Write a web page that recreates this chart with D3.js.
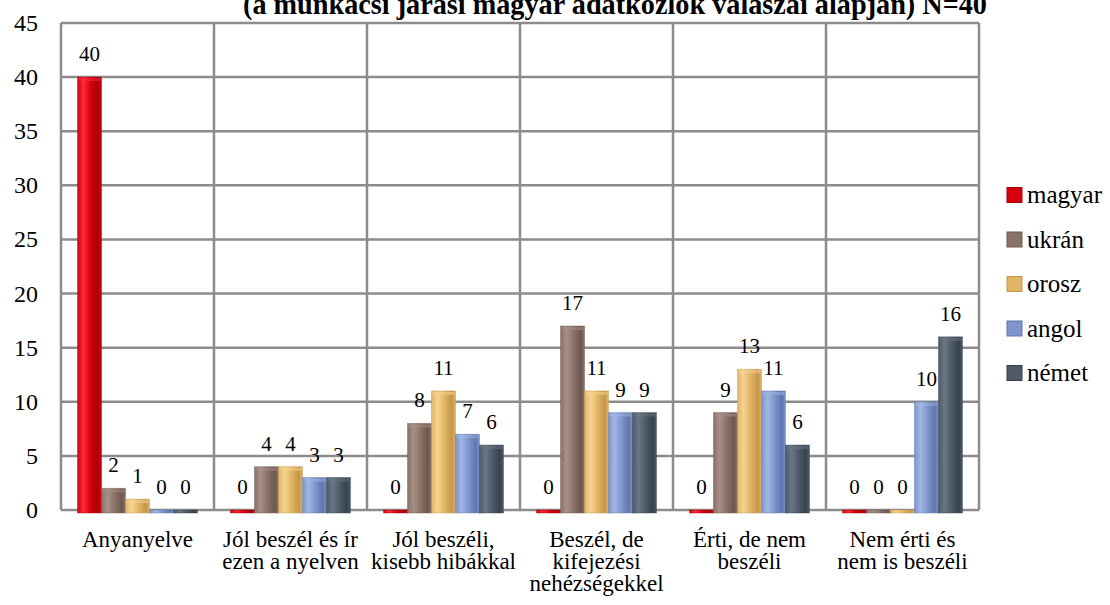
<!DOCTYPE html>
<html>
<head>
<meta charset="utf-8">
<script src="https://cdn.jsdelivr.net/npm/d3@7"></script>
<style>
  body { margin: 0; background: #fff; }
</style>
</head>
<body>
<div id="chart"></div>
<script>
// chart data
const categories = ["Anyanyelve", "Jól beszél és ír ezen a nyelven", "Jól beszéli, kisebb hibákkal",
  "Beszél, de kifejezési nehézségekkel", "Érti, de nem beszéli", "Nem érti és nem is beszéli"];
const categoryLines = [
  ["Anyanyelve"],
  ["Jól beszél és ír", "ezen a nyelven"],
  ["Jól beszéli,", "kisebb hibákkal"],
  ["Beszél, de", "kifejezési", "nehézségekkel"],
  ["Érti, de nem", "beszéli"],
  ["Nem érti és", "nem is beszéli"]
];
const seriesNames = ["magyar", "ukrán", "orosz", "angol", "német"];
const magyar = [40, 0, 0, 0, 0, 0];
const ukran  = [2, 4, 8, 17, 9, 0];
const orosz  = [1, 4, 11, 11, 13, 0];
const angol  = [0, 3, 7, 9, 11, 10];
const nemet  = [0, 3, 6, 9, 6, 16];
const yTicks = [0, 5, 10, 15, 20, 25, 30, 35, 40, 45];
const title = "(a munkácsi járási magyar adatközlők válaszai alapján) N=40";

const seriesValues = [magyar, ukran, orosz, angol, nemet];

// colours: [dark, light, base]
const palette = [
  ["#a8000a", "#ff2a38", "#d4000e"],
  ["#6c5850", "#a89086", "#8a7268"],
  ["#c4964a", "#f6d490", "#e2b465"],
  ["#5f77ad", "#a0b6e4", "#7d95cc"],
  ["#36414d", "#6a7683", "#4e5a68"]
];

const serif = "'Liberation Serif'";

const W = 1110, H = 605;
const plot = {left: 61, right: 979, top: 23, bottom: 510};

const svg = d3.select("#chart")
  .append("svg")
    .attr("width", W)
    .attr("height", H);

// gradients for the bars
const defs = svg.append("defs");
palette.forEach((c, i) => {
  const g = defs.append("linearGradient")
    .attr("id", "grad" + i)
    .attr("x1", "0%").attr("x2", "100%").attr("y1", "0%").attr("y2", "0%");
  g.append("stop").attr("offset", "0%").attr("stop-color", c[2]);
  g.append("stop").attr("offset", "25%").attr("stop-color", c[1]);
  g.append("stop").attr("offset", "55%").attr("stop-color", c[2]);
  g.append("stop").attr("offset", "85%").attr("stop-color", c[0]);
  g.append("stop").attr("offset", "100%").attr("stop-color", c[2]);
});

const x0 = d3.scaleBand()
  .domain(categories)
  .range([plot.left, plot.right])
  .paddingInner(0)
  .paddingOuter(0);

const x1 = d3.scaleBand()
  .domain(seriesNames)
  .range([0, x0.bandwidth()])
  .paddingInner(0)
  .paddingOuter(0.69);

const y = d3.scaleLinear()
  .domain([0, 45])
  .range([plot.bottom, plot.top]);

// title (cut off at the top like the original)
svg.append("text")
  .attr("x", 243)
  .attr("y", 14)
  .attr("textLength", 744)
  .attr("lengthAdjust", "spacingAndGlyphs")
  .style("font-family", serif)
  .style("font-size", "30px")
  .style("font-weight", "bold")
  .text(title);

// gridlines
const grid = svg.append("g")
  .attr("stroke", "#8c8c8c")
  .attr("stroke-width", 2.5);

grid.selectAll("line.h")
  .data(yTicks)
  .enter()
  .append("line")
    .attr("class", "h")
    .attr("x1", plot.left)
    .attr("x2", plot.right)
    .attr("y1", d => y(d))
    .attr("y2", d => y(d));

grid.selectAll("line.v")
  .data(categories.concat(["end"]))
  .enter()
  .append("line")
    .attr("class", "v")
    .attr("x1", (d, i) => i < categories.length ? x0(d) : plot.right)
    .attr("x2", (d, i) => i < categories.length ? x0(d) : plot.right)
    .attr("y1", plot.top)
    .attr("y2", plot.bottom);

// y tick labels
svg.append("g")
  .selectAll("text")
  .data(yTicks)
  .enter()
  .append("text")
    .attr("x", 38)
    .attr("y", d => y(d) + 8)
    .attr("text-anchor", "end")
    .style("font-family", serif)
    .style("font-size", "24px")
    .text(d => d);

// bars
const groups = svg.append("g")
  .selectAll("g")
  .data(categories)
  .enter()
  .append("g")
    .attr("transform", d => "translate(" + x0(d) + ",0)");

const barData = (cat, ci) => seriesNames.map((s, si) => ({s: s, si: si, v: seriesValues[si][ci]}));

groups.selectAll("rect")
  .data((d, ci) => barData(d, ci))
  .enter()
  .append("rect")
    .attr("x", d => x1(d.s))
    .attr("width", x1.bandwidth())
    .attr("y", d => y(d.v))
    .attr("height", d => y(0) - y(d.v) + 3)
    .attr("fill", d => "url(#grad" + d.si + ")")
    .attr("stroke", d => palette[d.si][0])
    .attr("stroke-opacity", 0.45)
    .attr("stroke-width", 1);

// bevel highlight at the top of each bar
groups.selectAll("rect.top")
  .data((d, ci) => barData(d, ci).filter(b => b.v > 0))
  .enter()
  .append("rect")
    .attr("class", "top")
    .attr("x", d => x1(d.s) + 1)
    .attr("width", x1.bandwidth() - 2)
    .attr("y", d => y(d.v) + 1)
    .attr("height", 3)
    .attr("fill", d => palette[d.si][1])
    .attr("opacity", 0.5);

// value labels
groups.selectAll("text")
  .data((d, ci) => barData(d, ci))
  .enter()
  .append("text")
    .attr("x", d => x1(d.s) + x1.bandwidth() / 2)
    .attr("y", d => y(d.v) - 16)
    .attr("text-anchor", "middle")
    .style("font-family", serif)
    .style("font-size", "21px")
    .text(d => d.v);

// category labels
const xl = svg.append("g")
  .selectAll("text")
  .data(categories)
  .enter()
  .append("text")
    .attr("x", d => x0(d) + x0.bandwidth() / 2)
    .attr("y", 547)
    .attr("text-anchor", "middle")
    .style("font-family", serif)
    .style("font-size", "23px");

xl.selectAll("tspan")
  .data((d, i) => categoryLines[i])
  .enter()
  .append("tspan")
    .attr("x", function() { return this.parentNode.getAttribute("x"); })
    .attr("dy", (d, i) => i === 0 ? 0 : 22)
    .text(d => d);

// legend
const legend = svg.append("g")
  .selectAll("g")
  .data(seriesNames)
  .enter()
  .append("g")
    .attr("transform", (d, i) => "translate(1007," + (195 + i * 44.5) + ")");

legend.append("rect")
  .attr("x", 0)
  .attr("y", -7.5)
  .attr("width", 15)
  .attr("height", 15)
  .attr("fill", (d, i) => palette[i][2])
  .attr("stroke", (d, i) => palette[i][0])
  .attr("stroke-width", 1);

legend.append("text")
  .attr("x", 20)
  .attr("y", 8)
  .style("font-family", serif)
  .style("font-size", "25px")
  .text(d => d);
</script>
</body>
</html>
